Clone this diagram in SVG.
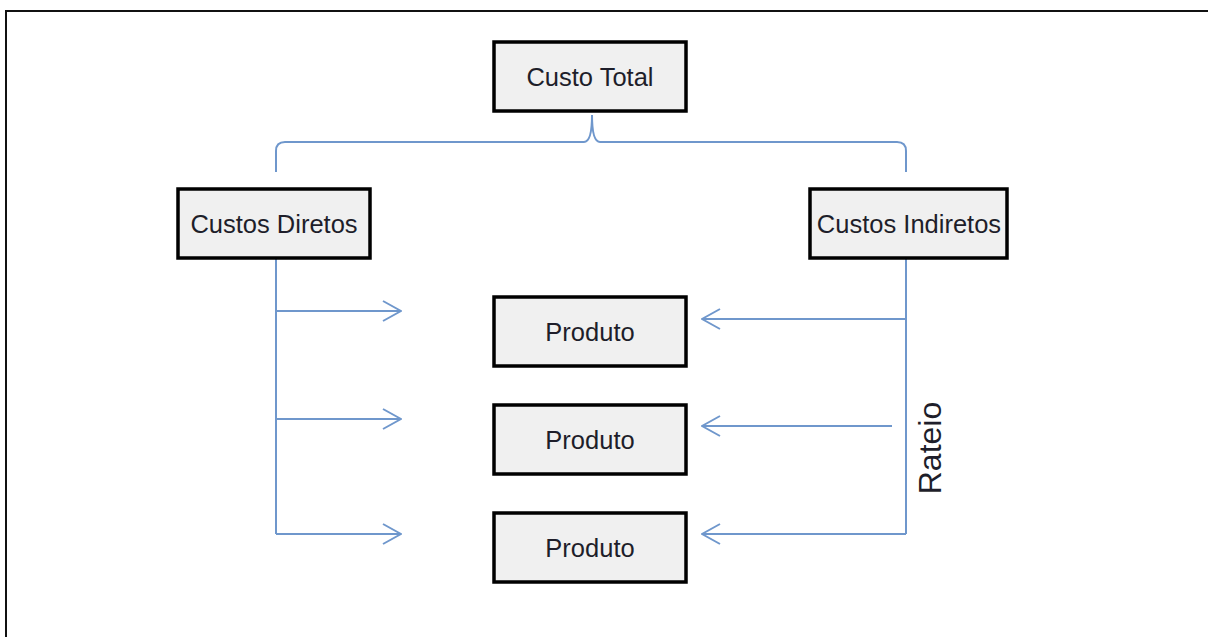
<svg xmlns="http://www.w3.org/2000/svg" width="1208" height="637" viewBox="0 0 1208 637">
  <style>
    .box { fill: #f0f0f0; stroke: #000; stroke-width: 3.5; }
    .lbl { font-family: "Liberation Sans", Arial, sans-serif; font-size: 25.5px; fill: #1e1e2a; text-anchor: middle; }
    .wire { fill: none; stroke: #6f97cc; stroke-width: 2; }
  </style>
  <defs>
    <marker id="open-arrow" viewBox="0 0 20 22" refX="19" refY="11" markerWidth="20" markerHeight="22" markerUnits="userSpaceOnUse" orient="auto">
      <path d="M1,1 L19,11 L1,21" fill="none" stroke="#6f97cc" stroke-width="2"/>
    </marker>
  </defs>

  <rect width="1208" height="637" fill="#fff"/>
  <!-- page frame -->
  <path d="M6,637 V11 H1208" fill="none" stroke="#111" stroke-width="2"/>

  <g id="connectors">
    <!-- brace under the total -->
    <path class="wire" d="M276,172 V151 Q276,142 285,142 H584 Q592,142 592,115 Q592,142 600,142 H897 Q906,142 906,151 V172"/>
    <!-- direct costs to each product -->
    <path class="wire" d="M276,259 V534"/>
    <path class="wire" d="M276,311 H401" marker-end="url(#open-arrow)"/>
    <path class="wire" d="M276,419 H401" marker-end="url(#open-arrow)"/>
    <path class="wire" d="M276,534 H401" marker-end="url(#open-arrow)"/>
    <!-- indirect costs allocated to each product -->
    <path class="wire" d="M906,259 V534"/>
    <path class="wire" d="M906,319 H702" marker-end="url(#open-arrow)"/>
    <path class="wire" d="M892,426 H702" marker-end="url(#open-arrow)"/>
    <path class="wire" d="M906,534 H702" marker-end="url(#open-arrow)"/>
    <text class="lbl" font-size="32" style="font-size:32px" transform="translate(941,448) rotate(-90)">Rateio</text>
  </g>

  <g id="custo-total">
    <rect class="box" x="494" y="42" width="192" height="69"/>
    <text class="lbl" x="590" y="86">Custo Total</text>
  </g>
  <g id="custos-diretos">
    <rect class="box" x="178" y="189" width="192" height="69"/>
    <text class="lbl" x="274" y="233">Custos Diretos</text>
  </g>
  <g id="custos-indiretos">
    <rect class="box" x="810" y="189" width="197" height="69"/>
    <text class="lbl" x="909" y="233">Custos Indiretos</text>
  </g>
  <g id="produto-1">
    <rect class="box" x="494" y="297" width="192" height="69"/>
    <text class="lbl" x="590" y="341">Produto</text>
  </g>
  <g id="produto-2">
    <rect class="box" x="494" y="405" width="192" height="69"/>
    <text class="lbl" x="590" y="449">Produto</text>
  </g>
  <g id="produto-3">
    <rect class="box" x="494" y="513" width="192" height="69"/>
    <text class="lbl" x="590" y="557">Produto</text>
  </g>
</svg>
